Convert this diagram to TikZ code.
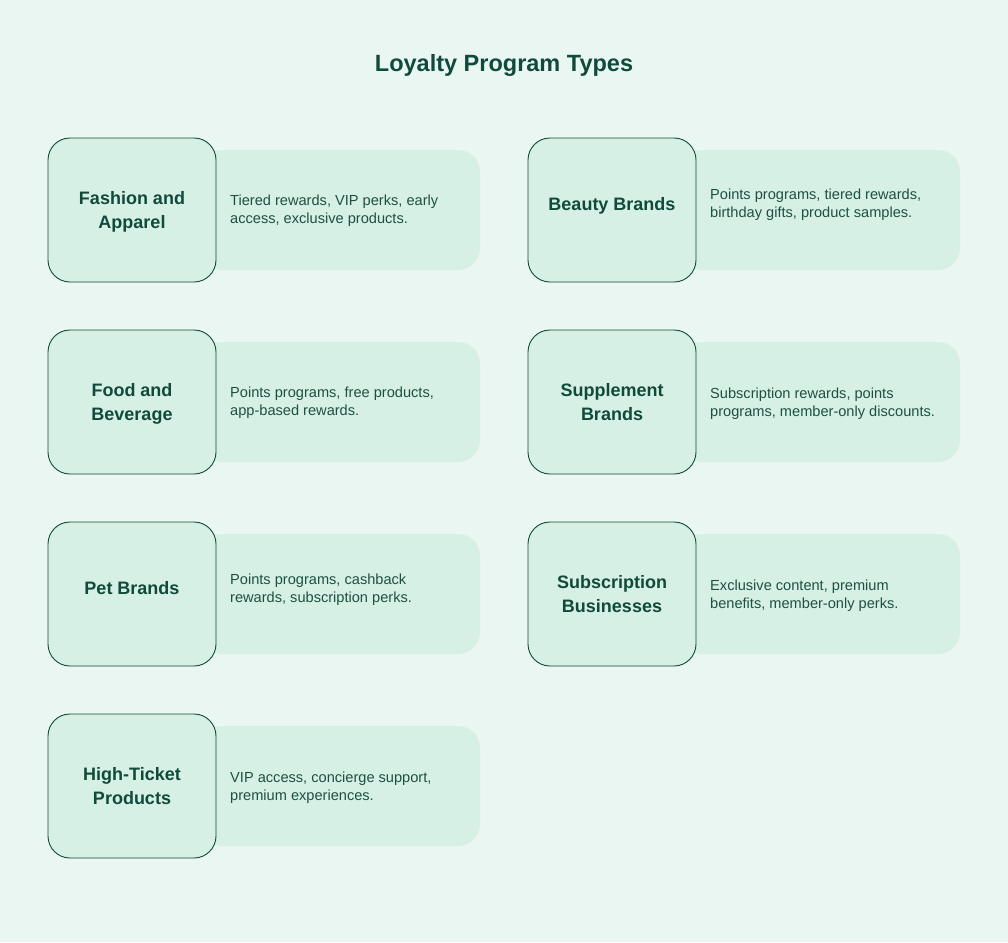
\documentclass[tikz,border=0pt]{standalone}
\usepackage{fontspec}
\setmainfont{Liberation Sans}
\usetikzlibrary{positioning}
\definecolor{PageBg}{RGB}{234,246,241}
\definecolor{BoxFill}{RGB}{215,240,229}
\definecolor{DarkGreen}{RGB}{16,74,58}
\definecolor{TextGreen}{RGB}{30,80,66}
\tikzset{
  catbox/.style={draw=DarkGreen,line width=0.9pt,rounded corners=22pt,fill=BoxFill,minimum width=168pt,minimum height=144pt,inner sep=0pt},
  descbox/.style={rounded corners=22pt,fill=BoxFill,minimum width=280pt,minimum height=120pt,inner sep=0pt},
  catlabel/.style={font=\fontsize{18}{24}\selectfont\bfseries,text=DarkGreen,align=center},
  desclabel/.style={font=\fontsize{14.6}{18}\selectfont,text=TextGreen,align=left,anchor=west,inner sep=0pt},
  heading/.style={font=\fontsize{23.5}{28}\selectfont\bfseries,text=DarkGreen}
}
\begin{document}
\begin{tikzpicture}[x=1pt,y=-1pt]
\fill[PageBg] (0,0) rectangle (1008,942);
\useasboundingbox (0,0) rectangle (1008,942);

\node[heading] (title) at (504,65) {Loyalty Program Types};

% left column
\node[descbox] (fashiond) at (340,210) {};
\node[catbox] (fashion) at (132,210) {};
\node[catlabel] at (132,212) {Fashion and\\Apparel};
\node[desclabel] at (230,211) {Tiered rewards, VIP perks, early\\access, exclusive products.};

\node[descbox] (foodd) at (340,402) {};
\node[catbox] (food) at (132,402) {};
\node[catlabel] at (132,404) {Food and\\Beverage};
\node[desclabel] at (230,402.5) {Points programs, free products,\\app-based rewards.};

\node[descbox] (petd) at (340,594) {};
\node[catbox] (pet) at (132,594) {};
\node[catlabel] at (132,588) {Pet Brands};
\node[desclabel] at (230,590) {Points programs, cashback\\rewards, subscription perks.};

\node[descbox] (ticketd) at (340,786) {};
\node[catbox] (ticket) at (132,786) {};
\node[catlabel] at (ticket) {High-Ticket\\Products};
\node[desclabel] at (230,788) {VIP access, concierge support,\\premium experiences.};

% right column
\node[descbox] (beautyd) at (820,210) {};
\node[catbox] (beauty) at (612,210) {};
\node[catlabel] at (612,206) {Beauty Brands};
\node[desclabel] at (710,205) {Points programs, tiered rewards,\\birthday gifts, product samples.};

\node[descbox] (suppd) at (820,402) {};
\node[catbox] (supp) at (612,402) {};
\node[catlabel] at (supp) {Supplement\\Brands};
\node[desclabel] at (710,404) {Subscription rewards, points\\programs, member-only discounts.};

\node[descbox] (subsd) at (820,594) {};
\node[catbox] (subs) at (612,594) {};
\node[catlabel] at (subs) {Subscription\\Businesses};
\node[desclabel] at (710,596) {Exclusive content, premium\\benefits, member-only perks.};
\end{tikzpicture}
\end{document}
